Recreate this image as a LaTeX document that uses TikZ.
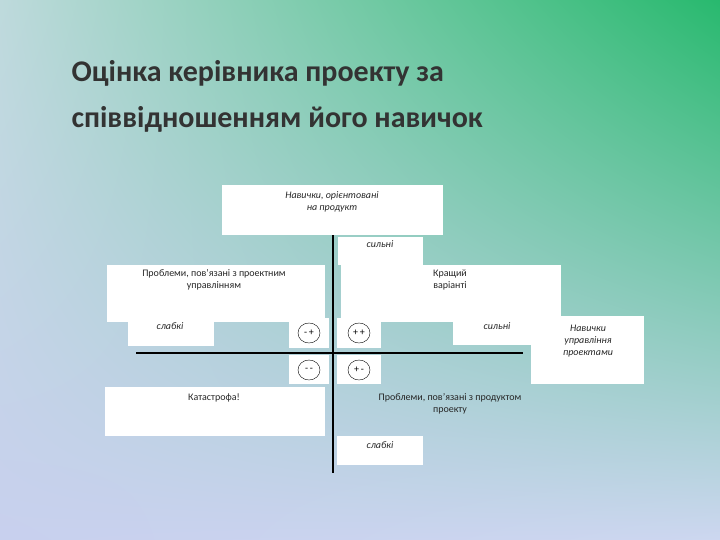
\documentclass[tikz,border=0pt]{standalone}
\usepackage{fontspec}
\setmainfont{Carlito}
\usetikzlibrary{shapes.geometric,shadings}
\definecolor{cul}{RGB}{190,218,220}
\definecolor{cur}{RGB}{40,185,110}
\definecolor{cll}{RGB}{200,208,238}
\definecolor{clr}{RGB}{205,215,240}
\begin{document}
\begin{tikzpicture}[x=1pt,y=-1pt,
  small/.style={font=\fontsize{10}{12}\selectfont,text=black!85,align=center},
  sm/.style={font=\fontsize{10}{12}\itshape\selectfont,text=black!85,align=center},
  oval/.style={ellipse,draw,thin,minimum width=22,minimum height=20,inner sep=0pt,font=\fontsize{10}{10}\selectfont}]
\useasboundingbox (0,0) rectangle (720,540);
\shade[upper left=cul,upper right=cur,lower left=cll,lower right=clr] (0,0) rectangle (720,540);
\node[anchor=base west,font=\fontsize{30}{36}\bfseries\selectfont,text=black!80,align=left] (t1) at (68,82) {Оцінка керівника проекту за};
\node[anchor=base west,font=\fontsize{30}{36}\bfseries\selectfont,text=black!80,align=left] (t2) at (68,128) {співвідношенням його навичок};
% boxes
\fill[white] (222,185) rectangle (443,235);
\fill[white] (338,237) rectangle (423,265);
\fill[white] (107,265) rectangle (325,322);
\fill[white] (341,265) rectangle (561,322);
\fill[white] (128,318) rectangle (214,346);
\fill[white] (289,318) rectangle (329,348);
\fill[white] (337,318) rectangle (381,348);
\fill[white] (453,316) rectangle (532,345);
\fill[white] (531,316) rectangle (644,384);
\fill[white] (289,355) rectangle (329,384);
\fill[white] (337,355) rectangle (381,384);
\fill[white] (105,387) rectangle (325,436);
\fill[white] (337,436) rectangle (423,465);
% axes
\coordinate (vt) at (333,235); \coordinate (vb) at (333,473);
\coordinate (hl) at (136,353); \coordinate (hr) at (523,353);
\draw[line width=2pt] (vt) -- (vb);
\draw[line width=2pt] (hl) -- (hr);
% texts
\node[sm] (a) at (332,202) {Навички, орієнтовані\\на продукт};
\node[sm] (b) at (380,244) {сильні};
\node[small] (c) at (214,280) {Проблеми, пов’язані з проектним\\управлінням};
\node[small] (d) at (450,280) {Кращий\\варіанті};
\node[sm] (e) at (170,326) {слабкі};
\node[sm] (f) at (497,326) {сильні};
\node[sm] (g) at (588,341) {Навички\\управління\\проектами};
\node[oval] (o1) at (309,333) {-\,+};
\node[oval] (o2) at (359,333) {+\,+};
\node[oval] (o3) at (309,370) {-\,-};
\node[oval] (o4) at (359,370) {+\,-};
\node[small] (h) at (214,398) {Катастрофа!};
\node[small] (i) at (450,404) {Проблеми, пов’язані з продуктом\\проекту};
\node[sm] (j) at (380,445) {слабкі};
\end{tikzpicture}
\end{document}
